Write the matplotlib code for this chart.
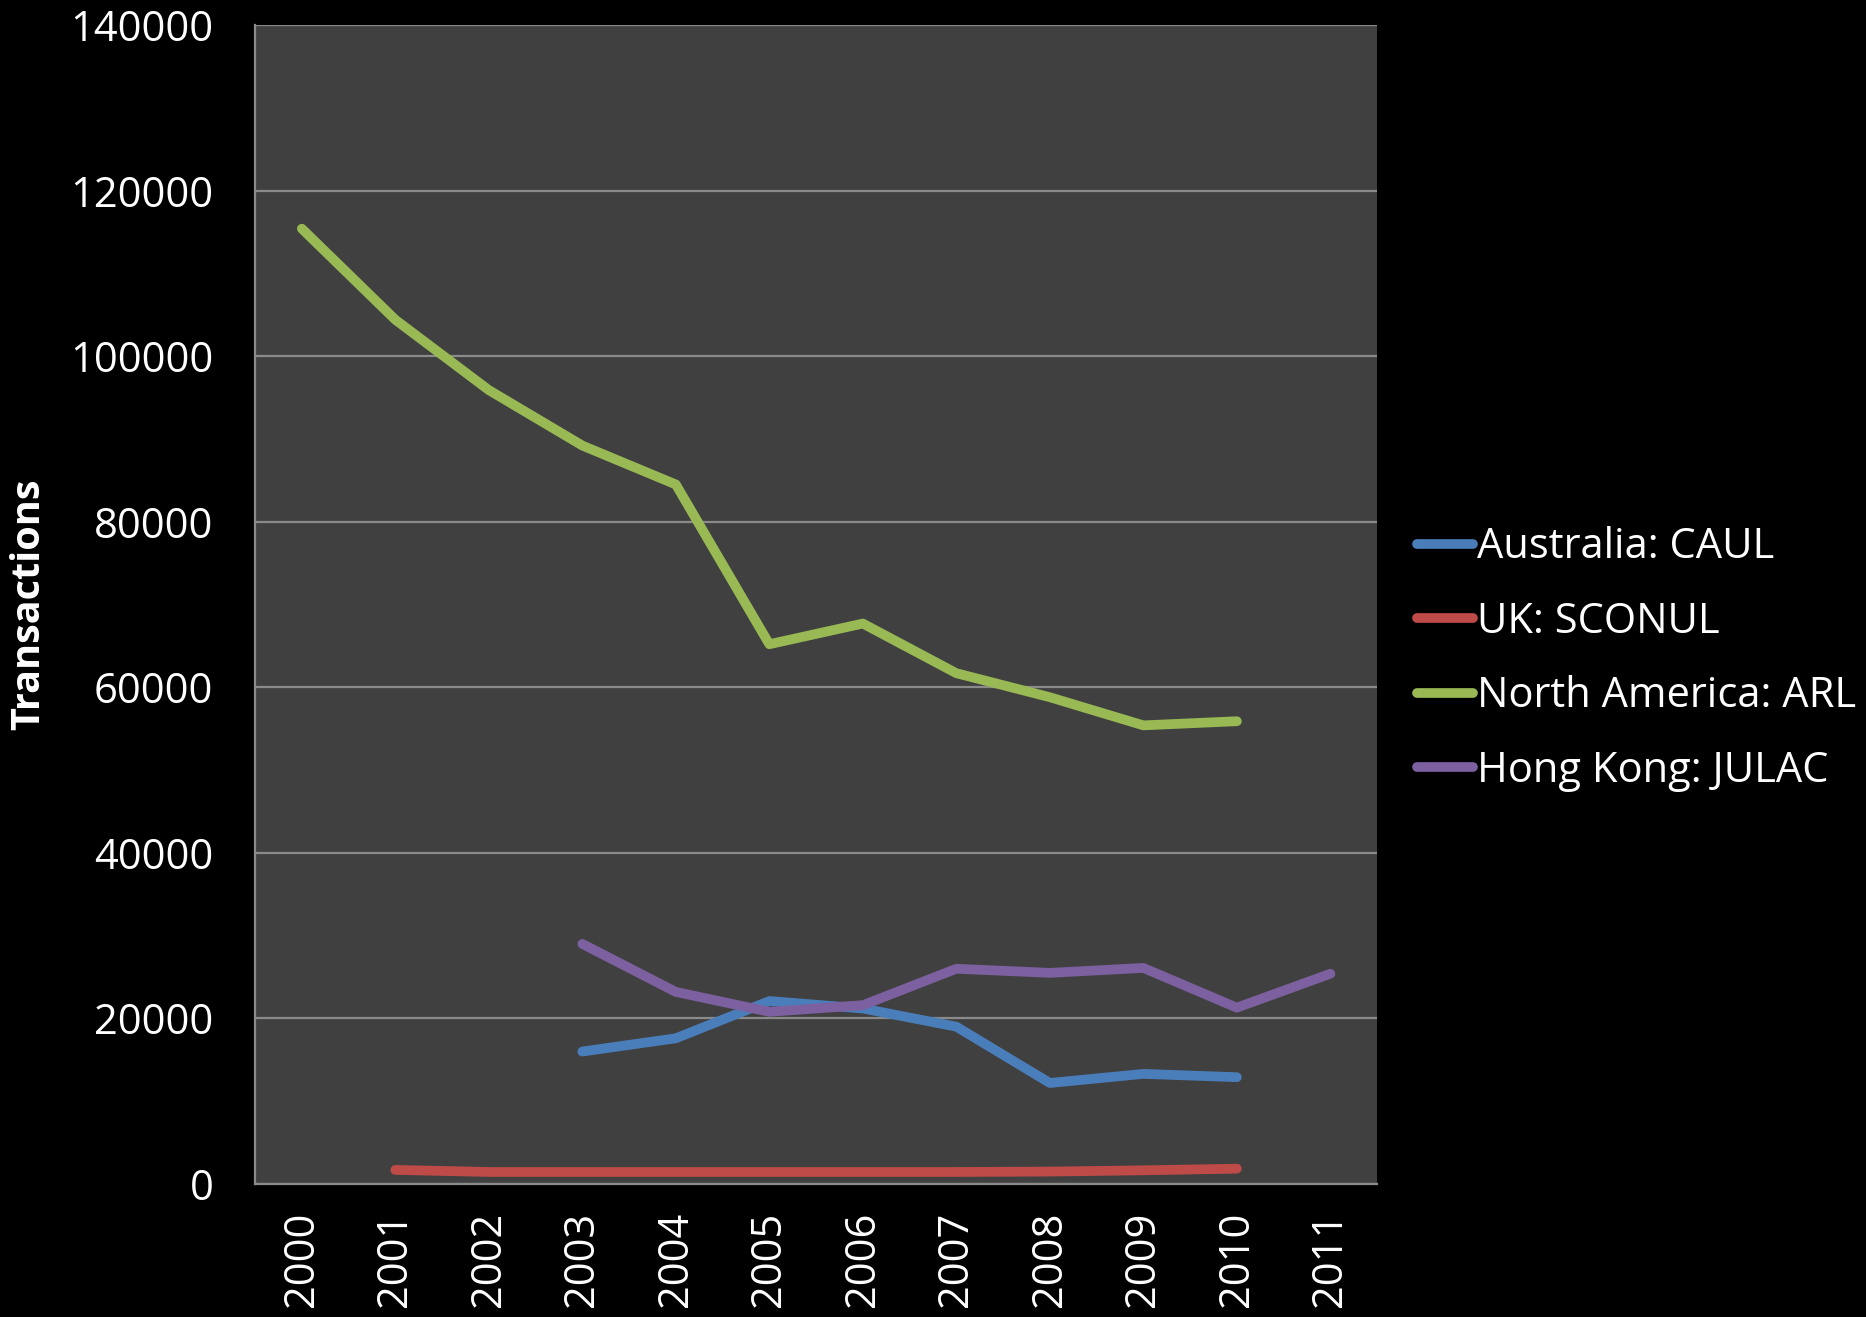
import matplotlib
matplotlib.use("Agg")
import matplotlib.pyplot as plt

## Data ##
years = ["2000", "2001", "2002", "2003", "2004", "2005",
         "2006", "2007", "2008", "2009", "2010", "2011"]

# (first year index, values) for each series
caul_start = 3
caul = [16000, 17600, 22100, 21200, 19000, 12200, 13300, 12900]

sconul_start = 1
sconul = [1700, 1450, 1450, 1450, 1450, 1450, 1450, 1500, 1650, 1850]

arl_start = 0
arl = [115400, 104400, 95900, 89200, 84500, 65200, 67700, 61700, 58800, 55400, 55900]

julac_start = 3
julac = [29000, 23200, 20800, 21600, 26000, 25500, 26100, 21300, 25400]

series = [
    ("Australia: CAUL", caul_start, caul, "#4A7EBB"),
    ("UK: SCONUL", sconul_start, sconul, "#BE4B48"),
    ("North America: ARL", arl_start, arl, "#98B954"),
    ("Hong Kong: JULAC", julac_start, julac, "#7D60A0"),
]

## Figure ##
plt.rcParams["font.family"] = ["Open Sans", "DejaVu Sans"]

fig = plt.figure(figsize=(18.66, 13.17), dpi=100, facecolor="black")
ax = fig.add_axes([0.1367, 0.101, 0.6013, 0.880])
ax.set_facecolor("#404040")

for name, start, vals, color in series:
    xs = list(range(start, start + len(vals)))
    ax.plot(xs, vals, color=color, lw=7, label=name,
            solid_capstyle="round", solid_joinstyle="round", zorder=3)

ax.set_xlim(-0.5, len(years) - 0.5)
ax.set_ylim(0, 140000)
ax.set_xticks(range(len(years)))
ax.set_xticklabels(years, rotation=90)
ax.set_yticks(range(0, 140001, 20000))

ax.grid(axis="y", color="#8a8a8a", lw=1.6, zorder=1)
ax.tick_params(axis="both", length=0, colors="white", labelsize=30)
ax.tick_params(axis="x", pad=20)
ax.tick_params(axis="y", pad=30)

for side in ["top", "right"]:
    ax.spines[side].set_visible(False)
for side in ["left", "bottom"]:
    ax.spines[side].set_color("#8a8a8a")
    ax.spines[side].set_linewidth(1.6)

ax.set_ylabel("Transactions", color="white", fontsize=28.5, fontweight="bold")
ax.yaxis.set_label_coords(-0.184, 0.5)

leg = ax.legend(loc="center left", bbox_to_anchor=(1417 / 1866, 1 - 659 / 1317),
                bbox_transform=fig.transFigure, frameon=False, fontsize=30,
                handlelength=1.35, handletextpad=0.1, labelspacing=0.78,
                borderpad=0, borderaxespad=0)
for text in leg.get_texts():
    text.set_color("white")
for line in leg.get_lines():
    line.set_linewidth(7)

fig.savefig("out.png", dpi=100, facecolor="black")
